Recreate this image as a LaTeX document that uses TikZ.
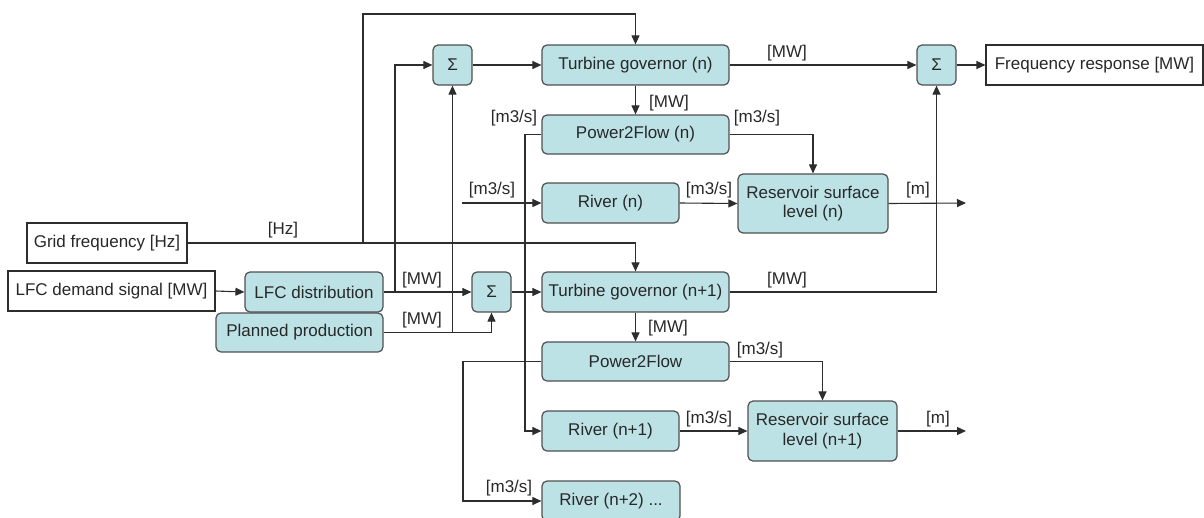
\documentclass[tikz,border=0pt]{standalone}
\usepackage{fontspec}
\setmainfont{Liberation Sans}
\usetikzlibrary{arrows.meta}
\definecolor{boxfill}{RGB}{188,226,230}
\definecolor{lineC}{RGB}{45,45,45}
\definecolor{boxline}{RGB}{80,80,80}
\definecolor{txt}{RGB}{40,40,40}
\tikzset{
  every node/.style={font=\fontsize{17}{19.5}\selectfont, text=txt},
  blk/.style={draw=boxline, line width=1.2pt, fill=boxfill, rounded corners=5pt, inner sep=0pt, align=center},
  wbox/.style={draw=lineC, line width=1.1pt, fill=white, inner sep=0pt},
  conn/.style={draw=lineC, line width=1.1pt},
  arr/.style={conn, -{Triangle[length=9pt,width=8pt]}},
  lbl/.style={inner sep=0pt}
}
\begin{document}
\begin{tikzpicture}[x=1pt,y=-1pt]
\useasboundingbox (0,0) rectangle (1204,517);
% nodes
\node[wbox, minimum width=160pt, minimum height=40pt] (gf) at (107,243) {Grid frequency [Hz]};
\node[wbox, minimum width=207pt, minimum height=40pt] (lfcd) at (111.5,291) {LFC demand signal [MW]};
\node[blk, minimum width=138pt, minimum height=40pt] (lfc) at (314,292) {LFC distribution};
\node[blk, minimum width=167pt, minimum height=39pt] (pp) at (299.5,332.5) {Planned production};
\node[blk, minimum width=39pt, minimum height=40pt] (s1) at (452.5,65) {Σ};
\node[blk, minimum width=187pt, minimum height=40pt] (tg1) at (635.5,65) {Turbine governor (n)};
\node[blk, minimum width=39pt, minimum height=40pt] (s3) at (936.5,65) {Σ};
\node[wbox, minimum width=217pt, minimum height=40pt] (fr) at (1094.5,65) {Frequency response [MW]};
\node[blk, minimum width=187pt, minimum height=39pt] (pf1) at (635.5,134.5) {Power2Flow (n)};
\node[blk, minimum width=137pt, minimum height=40pt] (r1) at (610.5,203) {River (n)};
\node[blk, minimum width=150pt, minimum height=59pt] (res1) at (813,203.5) {Reservoir surface\\level (n)};
\node[blk, minimum width=39pt, minimum height=40pt] (s2) at (491.5,292) {Σ};
\node[blk, minimum width=187pt, minimum height=40pt] (tg2) at (635.5,292) {Turbine governor (n+1)};
\node[blk, minimum width=187pt, minimum height=39pt] (pf2) at (635.5,361.5) {Power2Flow};
\node[blk, minimum width=137pt, minimum height=40pt] (r2) at (610.5,431) {River (n+1)};
\node[blk, minimum width=149pt, minimum height=60pt] (res2) at (822.5,431) {Reservoir surface\\level (n+1)};
\node[blk, minimum width=138pt, minimum height=40pt] (r3) at (611,501) {River (n+2) ...};
% coordinates
\coordinate (j1) at (363,243);
\coordinate (ct) at (363,14);
\coordinate (j2) at (395,292);
\coordinate (j3) at (452.5,332.5);
\coordinate (k1) at (525,134.5);
\coordinate (k2) at (463,361.5);
\coordinate (in1) at (462,203);
\coordinate (out1) at (966,203);
\coordinate (out2) at (966,431);
% connectors
\draw[arr] (gf.east) -- (tg2.north |- gf.east) -- (tg2.north);
\draw[arr] (j1) -- (ct) -| (tg1.north);
\draw[arr] (lfcd.east) -- (lfc.west);
\draw[arr] (lfc.east) -- (s2.west);
\draw[arr] (j2) |- (s1.west);
\draw[arr] (pp.east) -| (s2.south);
\draw[arr] (j3) -- (s1.south);
\draw[arr] (s1.east) -- (tg1.west);
\draw[arr] (s2.east) -- (tg2.west);
\draw[arr] (tg1.east) -- (s3.west);
\draw[arr] (tg1.south) -- (pf1.north);
\draw[arr] (pf1.east) -| (res1.north);
\draw[arr] (pf1.west) -- (k1) |- (r2.west);
\draw[arr] (in1) -- (r1.west);
\draw[arr] (r1.east) -- (res1.west);
\draw[arr] (res1.east) -- (out1);
\draw[arr] (tg2.east) -| (s3.south);
\draw[arr] (tg2.south) -- (pf2.north);
\draw[arr] (pf2.east) -| (res2.north);
\draw[arr] (pf2.west) -- (k2) |- (r3.west);
\draw[arr] (r2.east) -- (res2.west);
\draw[arr] (res2.east) -- (out2);
\draw[arr] (s3.east) -- (fr.west);
% labels
\node[lbl] (lHz) at (283,230) {[Hz]};
\node[lbl] (lMW1) at (422,280) {[MW]};
\node[lbl] (lMW2) at (422,320) {[MW]};
\node[lbl] (lMW3) at (787,53) {[MW]};
\node[lbl] (lMW4) at (669,103) {[MW]};
\node[lbl] (lQ1) at (514,118) {[m3/s]};
\node[lbl] (lQ2) at (757,118) {[m3/s]};
\node[lbl] (lQ3) at (492,190) {[m3/s]};
\node[lbl] (lQ4) at (709,190) {[m3/s]};
\node[lbl] (lm1) at (918,190) {[m]};
\node[lbl] (lMW5) at (787,280) {[MW]};
\node[lbl] (lMW6) at (668,328) {[MW]};
\node[lbl] (lQ5) at (760,350) {[m3/s]};
\node[lbl] (lQ6) at (709,419) {[m3/s]};
\node[lbl] (lm2) at (938,419) {[m]};
\node[lbl] (lQ7) at (509,488) {[m3/s]};
\end{tikzpicture}
\end{document}
